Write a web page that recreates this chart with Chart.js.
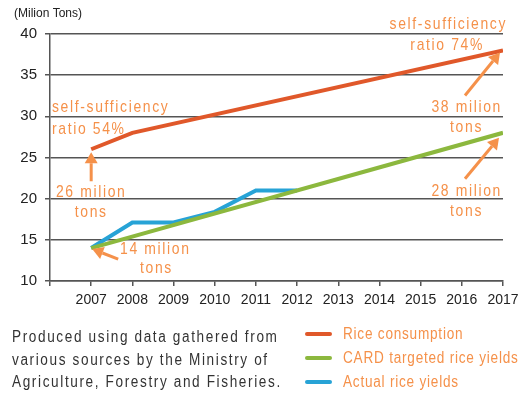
<!DOCTYPE html>
<html>
<head>
<meta charset="utf-8">
<script src="https://cdn.jsdelivr.net/npm/chart.js@4/dist/chart.umd.min.js"></script>
<style>
  html, body { margin: 0; padding: 0; background: #fff; }
  #wrap { position: relative; width: 527px; height: 396px; overflow: hidden; }
  #myChart { position: absolute; left: 0; top: 0; }
  .note {
    position: absolute; left: 12px; top: 326px; white-space: nowrap;
    font-family: "Liberation Sans", sans-serif;
    font-size: 16px; line-height: 22.5px; letter-spacing: 1.9px; color: #333;
    transform: scaleX(0.85); transform-origin: 0 0;
  }
  .legend { position: absolute; left: 305px; top: 322px; }
  .legend div { height: 24px; line-height: 23px; white-space: nowrap; }
  .legend span {
    display: inline-block; width: 27px; height: 4px; border-radius: 2px;
    vertical-align: middle; position: relative; top: -1px;
  }
  .legend b {
    display: inline-block; margin-left: 11px; font-weight: normal;
    font-family: "Liberation Sans", sans-serif;
    font-size: 16px; letter-spacing: 0.9px; color: #f5914a;
    transform: scaleX(0.85); transform-origin: 0 50%;
  }
</style>
</head>
<body>
<div id="wrap">
  <canvas id="myChart" width="527" height="396"></canvas>
  <div class="note">Produced using data gathered from<br>various sources by the Ministry of<br>Agriculture, Forestry and Fisheries.</div>
  <div class="legend">
    <div><span style="background:#e0582a"></span><b>Rice consumption</b></div>
    <div><span style="background:#8cb83e"></span><b>CARD targeted rice yields</b></div>
    <div><span style="background:#27a3d6"></span><b>Actual rice yields</b></div>
  </div>
</div>
<script>
const yearTicks = [2007, 2008, 2009, 2010, 2011, 2012, 2013, 2014, 2015, 2016, 2017];

const riceYears = [2007, 2008, 2017];
const riceConsumption = [26, 28, 38];

const cardYears = [2007, 2017];
const cardTargets = [14, 28];

const actualYears = [2007, 2008, 2009, 2010, 2011, 2012];
const actualYields = [14, 17.1, 17.1, 18.4, 21, 21];

const ORANGE = '#f5914a';
const SQUEEZE = 0.82;

function points(xs, ys) {
    return xs.map(function (x, i) { return { x: x, y: ys[i] }; });
}

function arrow(ctx, x1, y1, x2, y2) {
    const a = Math.atan2(y2 - y1, x2 - x1);
    const head = 11, half = 6.5;
    const bx = x2 - head * Math.cos(a), by = y2 - head * Math.sin(a);
    ctx.strokeStyle = ORANGE;
    ctx.fillStyle = ORANGE;
    ctx.lineWidth = 3;
    ctx.beginPath();
    ctx.moveTo(x1, y1);
    ctx.lineTo(bx, by);
    ctx.stroke();
    ctx.beginPath();
    ctx.moveTo(x2, y2);
    ctx.lineTo(bx + half * Math.sin(a), by - half * Math.cos(a));
    ctx.lineTo(bx - half * Math.sin(a), by + half * Math.cos(a));
    ctx.closePath();
    ctx.fill();
}

// narrow, widely spaced orange text
function label(ctx, text, x, y, align) {
    ctx.save();
    ctx.translate(x, y);
    ctx.scale(SQUEEZE, 1);
    ctx.textAlign = align || 'center';
    ctx.textBaseline = 'middle';
    ctx.fillText(text, 0, 0);
    ctx.restore();
}

// orange call-outs and the unit caption
const notes = {
    id: 'notes',
    afterDatasetsDraw: function (chart) {
        const ctx = chart.ctx;
        const xs = chart.scales.x, ys = chart.scales.y;
        const X = function (v) { return xs.getPixelForValue(v); };
        const Y = function (v) { return ys.getPixelForValue(v); };
        ctx.save();

        ctx.fillStyle = '#222';
        ctx.font = '12px "Liberation Sans", sans-serif';
        ctx.textBaseline = 'middle';
        ctx.textAlign = 'left';
        ctx.fillText('(Milion Tons)', 14, 14);

        ctx.font = '17px "Liberation Sans", sans-serif';
        ctx.letterSpacing = '2px';
        ctx.fillStyle = ORANGE;

        label(ctx, 'self-sufficiency', 52, 107, 'left');
        label(ctx, 'ratio 54%', 52, 129, 'left');
        label(ctx, '26 milion', X(2007), 192);
        label(ctx, 'tons', X(2007), 212);
        label(ctx, '14 milion', 120, 249, 'left');
        label(ctx, 'tons', 140, 268, 'left');

        label(ctx, 'self-sufficiency', 507, 24, 'right');
        label(ctx, 'ratio 74%', 484, 45, 'right');
        label(ctx, '38 milion', 502, 107, 'right');
        label(ctx, 'tons', 483, 127, 'right');
        label(ctx, '28 milion', 502, 191, 'right');
        label(ctx, 'tons', 483, 211, 'right');

        const r0 = Y(riceConsumption[0]);
        const a0 = Y(actualYields[0]);
        const r1 = Y(riceConsumption[riceConsumption.length - 1]);
        const c1 = Y(cardTargets[cardTargets.length - 1]);
        arrow(ctx, X(2007), r0 + 32, X(2007), r0 + 3);
        arrow(ctx, X(2007) + 27, a0 + 11, X(2007) + 1, a0 + 1);
        arrow(ctx, X(2017) - 38, r1 + 45, X(2017) - 3, r1 + 2);
        arrow(ctx, X(2017) - 38, c1 + 46, X(2017) - 4, c1 + 5);

        ctx.restore();
    }
};

const ctx = document.getElementById('myChart').getContext('2d');

new Chart(ctx, {
    type: 'line',
    data: {
        datasets: [
            {
                label: 'Rice consumption',
                data: points(riceYears, riceConsumption),
                borderColor: '#e0582a',
                borderWidth: 4,
                pointRadius: 0,
                tension: 0
            },
            {
                label: 'CARD targeted rice yields',
                data: points(cardYears, cardTargets),
                borderColor: '#8cb83e',
                borderWidth: 4,
                pointRadius: 0,
                tension: 0
            },
            {
                label: 'Actual rice yields',
                data: points(actualYears, actualYields),
                borderColor: '#27a3d6',
                borderWidth: 4,
                pointRadius: 0,
                tension: 0
            }
        ]
    },
    options: {
        responsive: false,
        animation: false,
        layout: { padding: { top: 34, left: 0, right: 24, bottom: 85 } },
        plugins: {
            legend: { display: false },
            tooltip: { enabled: false }
        },
        scales: {
            x: {
                type: 'linear',
                min: 2006,
                max: 2017,
                afterBuildTicks: function (axis) {
                    axis.ticks = [2006].concat(yearTicks).map(function (v) { return { value: v }; });
                },
                afterFit: function (axis) { axis.height = 30; },
                grid: {
                    drawOnChartArea: false,
                    drawTicks: true,
                    tickLength: 5,
                    color: '#555',
                    lineWidth: 1.5
                },
                border: { color: '#555', width: 1.5 },
                ticks: {
                    autoSkip: false,
                    maxRotation: 0,
                    padding: 6,
                    color: '#222',
                    font: { family: '"Liberation Sans", sans-serif', size: 14 },
                    callback: function (v) { return v === 2006 ? '' : String(v); }
                }
            },
            y: {
                min: 10,
                max: 40,
                afterFit: function (axis) { axis.width = 50; },
                grid: {
                    color: '#555',
                    lineWidth: 1.5,
                    tickLength: 5
                },
                border: { color: '#555', width: 1.5 },
                ticks: {
                    stepSize: 5,
                    padding: 8,
                    color: '#222',
                    font: { family: '"Liberation Sans", sans-serif', size: 15 }
                }
            }
        }
    },
    plugins: [notes]
});
</script>
</body>
</html>
